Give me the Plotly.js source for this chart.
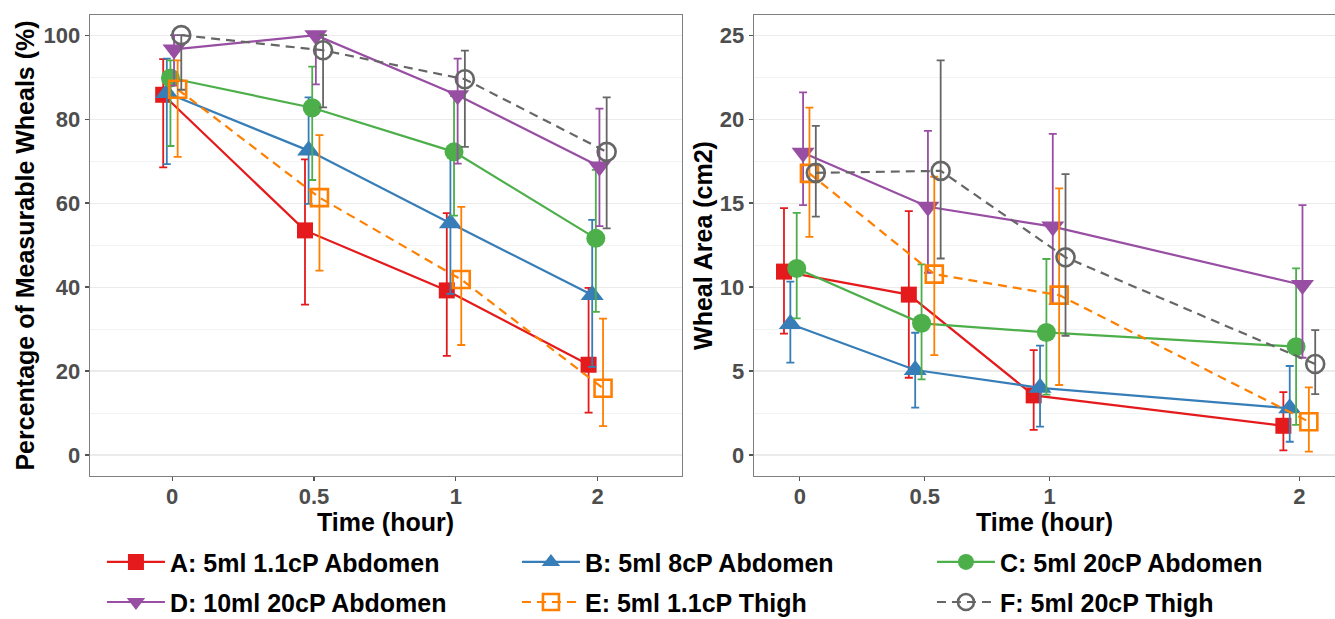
<!DOCTYPE html>
<html>
<head>
<meta charset="utf-8">
<script src="https://cdn.plot.ly/plotly-3.0.1.min.js"></script>
<style>html,body{margin:0;padding:0;background:#fff}#chart{width:1335px;height:619px}</style>
</head>
<body>
<div id="chart"></div>
<script>
// ---- data ----
const groupNames = ['A: 5ml 1.1cP Abdomen', 'B: 5ml 8cP Abdomen', 'C: 5ml 20cP Abdomen',
                    'D: 10ml 20cP Abdomen', 'E: 5ml 1.1cP Thigh', 'F: 5ml 20cP Thigh'];
const timeLabels = ['0', '0.5', '1', '2'];
const timeHours = [0, 0.5, 1, 2];
const xTitle = 'Time (hour)';
const yTitleLeft = 'Percentage of Measurable Wheals (%)';
const yTitleRight = 'Wheal Area (cm2)';

// Percentage of measurable wheals (%): mean, upper, lower
const pctA = [85.8, 53.5, 39.2, 21.5], pctA_hi = [94.3, 70.4, 57.6, 39.8], pctA_lo = [68.5, 35.8, 23.6, 10.1];
const pctB = [86.2, 72.5, 55.2, 38.1], pctB_hi = [94.4, 85.2, 72.0, 56.0], pctB_lo = [69.3, 59.8, 38.4, 21.0];
const pctC = [89.8, 82.7, 72.2, 51.6], pctC_hi = [94.0, 92.5, 85.5, 67.9], pctC_lo = [73.6, 65.5, 57.0, 34.1];
const pctD = [96.6, 100.0, 85.7, 68.7], pctD_hi = [100.0, 100.0, 94.4, 82.5], pctD_lo = [88.0, 88.3, 69.4, 54.5];
const pctE = [87.1, 61.3, 41.8, 15.9], pctE_hi = [94.0, 76.2, 59.1, 32.5], pctE_lo = [71.0, 43.9, 26.2, 6.9];
const pctF = [100.0, 96.4, 89.5, 72.2], pctF_hi = [100.0, 100.0, 96.3, 85.2], pctF_lo = [87.0, 82.8, 73.4, 54.0];

// Wheal area (cm2): mean, upper, lower
const areaA = [10.92, 9.55, 3.55, 1.74], areaA_hi = [14.70, 14.52, 6.25, 3.75], areaA_lo = [7.23, 4.60, 1.50, 0.27];
const areaB = [7.80, 5.06, 4.00, 2.78], areaB_hi = [10.32, 7.28, 6.51, 5.30], areaB_lo = [5.50, 2.82, 1.69, 0.79];
const areaC = [11.11, 7.84, 7.30, 6.45], areaC_hi = [14.42, 11.35, 11.67, 11.11], areaC_lo = [8.13, 4.50, 3.60, 1.80];
const areaD = [18.00, 14.78, 13.60, 10.12], areaD_hi = [21.59, 19.30, 19.12, 14.88], areaD_lo = [14.88, 10.85, 8.98, 5.79];
const areaE = [16.77, 10.77, 9.52, 1.98], areaE_hi = [20.69, 16.57, 15.88, 4.03], areaE_lo = [12.99, 5.95, 4.17, 0.20];
const areaF = [16.80, 16.92, 11.77, 5.42], areaF_hi = [19.60, 23.50, 16.72, 7.44], areaF_lo = [14.19, 11.70, 7.10, 3.63];

// ---- styling ----
const colors = ['#E41A1C', '#377EB8', '#4DAF4A', '#984EA3', '#FF7F00', '#666666'];
const symbols = ['square', 'triangle-up', 'circle', 'triangle-down', 'square-open', 'circle-open'];
const msizes = [16, 20, 19, 20, 17, 18];
const dashes = ['solid', 'solid', 'solid', 'solid', '9px,6px', '9px,6px'];
const legendIds = ['legend', 'legend', 'legend', 'legend2', 'legend2', 'legend2'];
const dodgeStep = 0.0255;
const FONT = 'Liberation Sans, Arial, Helvetica, sans-serif';

const pctSets = [[pctA, pctA_hi, pctA_lo], [pctB, pctB_hi, pctB_lo], [pctC, pctC_hi, pctC_lo],
                 [pctD, pctD_hi, pctD_lo], [pctE, pctE_hi, pctE_lo], [pctF, pctF_hi, pctF_lo]];
const areaSets = [[areaA, areaA_hi, areaA_lo], [areaB, areaB_hi, areaB_lo], [areaC, areaC_hi, areaC_lo],
                  [areaD, areaD_hi, areaD_lo], [areaE, areaE_hi, areaE_lo], [areaF, areaF_hi, areaF_lo]];

function makeTrace(i, xs, set, xa, ya, showLeg) {
  const [m, hi, lo] = set;
  const off = (i - 2.5) * dodgeStep;
  return {
    type: 'scatter', mode: 'lines+markers',
    x: xs.map(v => v + off), y: m,
    xaxis: xa, yaxis: ya,
    name: groupNames[i], legendgroup: 'g' + i, showlegend: showLeg, legend: legendIds[i],
    line: {color: colors[i], width: 2.2, dash: dashes[i]},
    marker: {symbol: symbols[i], size: msizes[i], color: colors[i],
             line: {color: colors[i], width: symbols[i].includes('open') ? 2.6 : 0}},
    error_y: {type: 'data', symmetric: false,
              array: hi.map((h, k) => h - m[k]), arrayminus: lo.map((l, k) => m[k] - l),
              color: colors[i], thickness: 1.8, width: 4}
  };
}

const catIdx = timeLabels.map((_, k) => k);
const traces = [];
for (let i = 0; i < 6; i++) traces.push(makeTrace(i, catIdx, pctSets[i], 'x', 'y', true));
for (let i = 0; i < 6; i++) traces.push(makeTrace(i, timeHours, areaSets[i], 'x2', 'y2', false));

const axBase = {
  showline: true, mirror: true, linecolor: '#7f7f7f', linewidth: 1.3,
  ticks: 'outside', ticklen: 4, tickwidth: 1.2, tickcolor: '#555555',
  tickfont: {family: FONT, size: 22, color: '#4d4d4d', weight: 'bold'},
  zeroline: false
};
const titleFont = {family: FONT, size: 25, color: '#000000', weight: 'bold'};
const legendBase = {
  orientation: 'h', x: 0.0096, xanchor: 'left', yanchor: 'top',
  font: {family: FONT, size: 25, color: '#000000', weight: 'bold'},
  itemwidth: 58, entrywidth: 342, entrywidthmode: 'pixels',
  bgcolor: 'rgba(0,0,0,0)', borderwidth: 0
};

const layout = {
  width: 1335, height: 619,
  margin: {l: 90, r: 0, t: 15, b: 143, autoexpand: false},
  paper_bgcolor: '#ffffff', plot_bgcolor: '#ffffff',
  showlegend: true,
  xaxis: Object.assign({}, axBase, {
    domain: [0, 0.4755], range: [-0.58, 3.595], showgrid: false,
    tickmode: 'array', tickvals: catIdx, ticktext: timeLabels, ticklabelstandoff: -4
  }),
  yaxis: Object.assign({}, axBase, {
    domain: [0, 1], range: [-5, 104.8], dtick: 20, tick0: 0,
    showgrid: true, gridcolor: '#ebebeb', gridwidth: 1.1,
    minor: {dtick: 10, tick0: 0, showgrid: true, gridcolor: '#f2f2f2', gridwidth: 0.9, ticks: ''},
    title: {text: yTitleLeft, font: titleFont, standoff: 1}
  }),
  xaxis2: Object.assign({}, axBase, {
    domain: [0.5333, 1], range: [-0.184, 2.143], showgrid: false,
    tickmode: 'array', tickvals: timeHours, ticktext: timeLabels, ticklabelstandoff: -4,
    anchor: 'y2'
  }),
  yaxis2: Object.assign({}, axBase, {
    domain: [0, 1], range: [-1.25, 26.2], dtick: 5, tick0: 0, anchor: 'x2',
    showgrid: true, gridcolor: '#ebebeb', gridwidth: 1.1,
    minor: {dtick: 2.5, tick0: 0, showgrid: true, gridcolor: '#f2f2f2', gridwidth: 0.9, ticks: ''},
    title: {text: yTitleRight, font: titleFont, standoff: 0}
  }),
  annotations: [
    {text: xTitle, xref: 'x domain', yref: 'paper', x: 0.5, y: -0.0998, xanchor: 'center', yanchor: 'middle',
     showarrow: false, font: titleFont},
    {text: xTitle, xref: 'x2 domain', yref: 'paper', x: 0.5, y: -0.0998, xanchor: 'center', yanchor: 'middle',
     showarrow: false, font: titleFont}
  ],
  legend: Object.assign({}, legendBase, {y: -0.137}),
  legend2: Object.assign({}, legendBase, {y: -0.224})
};

Plotly.newPlot('chart', traces, layout, {displayModeBar: false, staticPlot: true});
</script>
</body>
</html>
